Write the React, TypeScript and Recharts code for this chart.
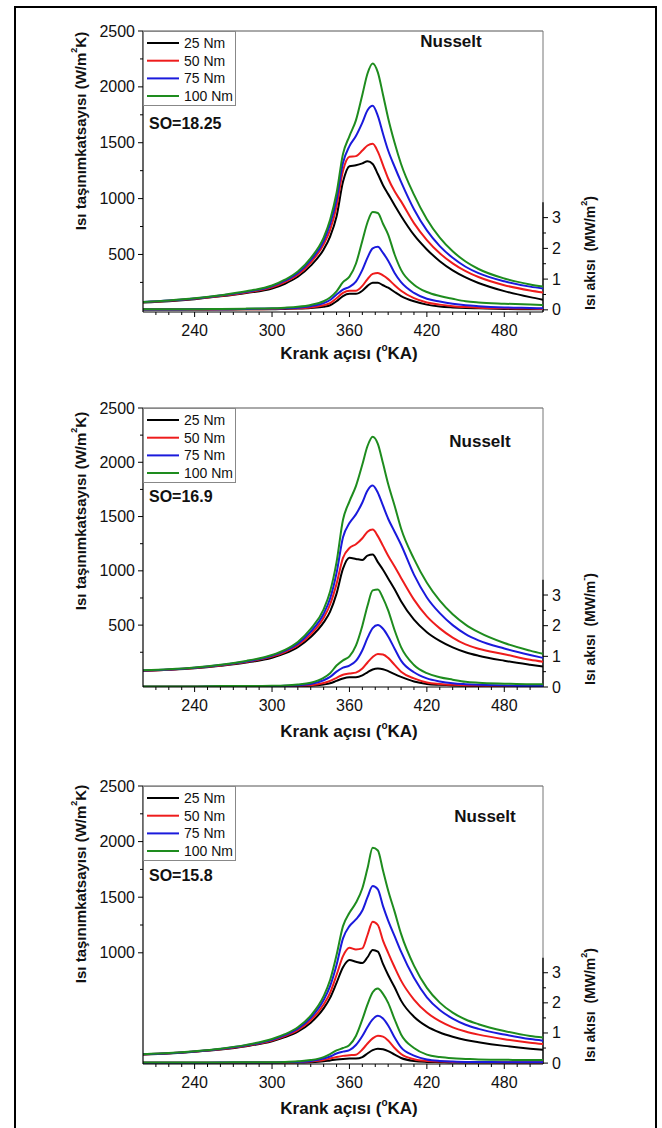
import React from 'react';
import { LineChart, Line, XAxis, YAxis, ReferenceLine } from 'recharts';

const FONT = "'Liberation Sans', Arial, Helvetica, sans-serif";

const crankAngle = [200, 220, 240, 260, 280, 300, 310, 320, 330, 340, 345, 350, 355, 360, 365, 370, 374, 378, 382, 386, 390, 395, 400, 410, 420, 430, 440, 450, 460, 480, 500, 510];

const loadLabels = ['25 Nm', '50 Nm', '75 Nm', '100 Nm'];
const loadColors = ['#000000', '#ee1c1c', '#1a1adc', '#1e8c1e'];

const xMajorTicks = [240, 300, 360, 420, 480];
const xAllTicks = [210, 220, 230, 240, 250, 260, 270, 280, 290, 300, 310, 320, 330, 340, 350, 360, 370, 380, 390, 400, 410, 420, 430, 440, 450, 460, 470, 480, 490, 500];
const hTicksFull = [250, 500, 750, 1000, 1250, 1500, 1750, 2000, 2250, 2500];
const hTickLabelsFull = [500, 1000, 1500, 2000, 2500];
const hTicksSO158 = [1000, 1250, 1500, 1750, 2000, 2250, 2500];
const hTickLabelsSO158 = [1000, 1500, 2000, 2500];
const qTicks = [0, 0.5, 1, 1.5, 2, 2.5, 3];
const qTickLabels = [0, 1, 2, 3];

// SO=18.25 heat transfer coefficient (W/m2K)
const so1825H25 = [70, 82, 100, 125, 155, 195, 238, 300, 400, 545, 660, 840, 1150, 1290, 1298, 1315, 1335, 1310, 1220, 1120, 1040, 940, 845, 675, 545, 440, 358, 295, 245, 172, 118, 95];
const so1825H50 = [72, 85, 103, 128, 160, 205, 252, 318, 428, 590, 720, 930, 1250, 1375, 1380, 1430, 1475, 1490, 1420, 1300, 1180, 1065, 975, 780, 628, 510, 420, 350, 298, 225, 178, 160];
const so1825H75 = [74, 87, 105, 132, 165, 215, 265, 335, 450, 620, 770, 990, 1320, 1470, 1560, 1680, 1790, 1830, 1740, 1580, 1430, 1285, 1150, 905, 715, 575, 470, 390, 333, 260, 212, 195];
const so1825H100 = [75, 88, 107, 135, 170, 222, 274, 348, 468, 650, 810, 1050, 1400, 1560, 1700, 1930, 2120, 2210, 2130, 1930, 1720, 1500, 1310, 1035, 815, 650, 528, 437, 370, 285, 232, 212];
// SO=18.25 heat flux (MW/m2)
const so1825Q25 = [0.01, 0.01, 0.01, 0.01, 0.02, 0.02, 0.03, 0.04, 0.06, 0.1, 0.15, 0.28, 0.45, 0.52, 0.52, 0.62, 0.78, 0.88, 0.88, 0.8, 0.72, 0.58, 0.45, 0.28, 0.17, 0.11, 0.08, 0.06, 0.05, 0.03, 0.02, 0.02];
const so1825Q50 = [0.01, 0.01, 0.01, 0.02, 0.02, 0.03, 0.04, 0.05, 0.08, 0.15, 0.22, 0.38, 0.55, 0.62, 0.62, 0.78, 1.0, 1.17, 1.2, 1.12, 1.0, 0.8, 0.62, 0.38, 0.24, 0.17, 0.12, 0.09, 0.07, 0.05, 0.04, 0.03];
const so1825Q75 = [0.01, 0.01, 0.02, 0.02, 0.03, 0.04, 0.05, 0.07, 0.12, 0.22, 0.32, 0.5, 0.66, 0.75, 0.92, 1.3, 1.7, 2.0, 2.05, 1.85, 1.6, 1.2, 0.9, 0.55, 0.36, 0.27, 0.2, 0.15, 0.12, 0.08, 0.06, 0.05];
const so1825Q100 = [0.02, 0.02, 0.02, 0.03, 0.04, 0.05, 0.07, 0.1, 0.16, 0.28, 0.4, 0.6, 0.9, 1.08, 1.5, 2.25, 2.85, 3.18, 3.15, 2.8, 2.45, 1.8, 1.3, 0.82, 0.58, 0.45, 0.36, 0.28, 0.24, 0.2, 0.17, 0.16];

// SO=16.9
const so169H25 = [78, 88, 102, 125, 155, 200, 240, 298, 390, 525, 625, 790, 1020, 1120, 1110, 1100, 1140, 1150, 1080, 1010, 930, 830, 720, 550, 435, 355, 295, 250, 218, 172, 135, 118];
const so169H50 = [80, 90, 105, 128, 160, 210, 252, 315, 415, 568, 690, 880, 1120, 1210, 1245, 1300, 1360, 1380, 1320, 1230, 1140, 1040, 935, 735, 580, 470, 385, 322, 283, 232, 180, 162];
const so169H75 = [82, 92, 108, 132, 165, 218, 262, 330, 440, 605, 745, 980, 1310, 1440, 1520, 1630, 1740, 1785, 1720, 1600, 1480, 1360, 1240, 965, 755, 610, 500, 418, 360, 285, 225, 198];
const so169H100 = [84, 94, 110, 135, 170, 225, 272, 345, 465, 645, 810, 1080, 1470, 1640, 1780, 1980, 2150, 2235, 2170, 1990, 1800, 1600, 1390, 1110, 890, 725, 600, 505, 435, 335, 265, 235];
const so169Q25 = [0.01, 0.01, 0.01, 0.01, 0.01, 0.02, 0.02, 0.03, 0.04, 0.08, 0.12, 0.2, 0.28, 0.32, 0.32, 0.38, 0.48, 0.57, 0.6, 0.58, 0.52, 0.42, 0.33, 0.18, 0.1, 0.07, 0.05, 0.04, 0.03, 0.02, 0.02, 0.02];
const so169Q50 = [0.01, 0.01, 0.01, 0.01, 0.02, 0.02, 0.03, 0.04, 0.06, 0.13, 0.2, 0.3, 0.4, 0.44, 0.47, 0.6, 0.8, 0.98, 1.08, 1.06, 0.95, 0.72, 0.5, 0.28, 0.15, 0.1, 0.07, 0.05, 0.04, 0.03, 0.03, 0.03];
const so169Q75 = [0.01, 0.01, 0.01, 0.02, 0.02, 0.03, 0.04, 0.06, 0.1, 0.22, 0.33, 0.5, 0.63, 0.7, 0.85, 1.2, 1.6, 1.92, 2.02, 1.9, 1.65, 1.25, 0.86, 0.48, 0.28, 0.18, 0.12, 0.09, 0.07, 0.05, 0.03, 0.03];
const so169Q100 = [0.02, 0.02, 0.02, 0.03, 0.03, 0.04, 0.05, 0.08, 0.14, 0.3, 0.45, 0.7, 0.87, 1.0, 1.35, 2.0, 2.65, 3.15, 3.18, 2.9, 2.5, 1.85, 1.3, 0.72, 0.45, 0.32, 0.24, 0.17, 0.14, 0.11, 0.09, 0.09];

// SO=15.8
const so158H25 = [85, 95, 110, 130, 160, 205, 242, 292, 372, 500, 595, 730, 870, 935, 920, 908, 960, 1025, 1010, 900, 800, 690, 570, 425, 338, 283, 245, 216, 196, 163, 138, 128];
const so158H50 = [86, 96, 112, 133, 165, 212, 252, 305, 393, 535, 640, 800, 970, 1045, 1030, 1040, 1160, 1280, 1250, 1110, 1000, 870, 750, 580, 463, 385, 330, 292, 264, 223, 192, 180];
const so158H75 = [87, 97, 113, 135, 168, 218, 260, 318, 415, 575, 700, 890, 1130, 1240, 1300, 1380, 1500, 1600, 1570, 1420, 1290, 1150, 1010, 775, 600, 485, 408, 353, 316, 265, 224, 210];
const so158H100 = [88, 98, 115, 138, 172, 225, 268, 330, 435, 610, 755, 980, 1240, 1360, 1450, 1580, 1760, 1945, 1920, 1740, 1560, 1370, 1170, 885, 685, 552, 462, 400, 358, 297, 252, 238];
const so158Q25 = [0.01, 0.01, 0.01, 0.01, 0.01, 0.01, 0.02, 0.02, 0.03, 0.06, 0.09, 0.12, 0.14, 0.15, 0.15, 0.2, 0.32, 0.43, 0.48, 0.46, 0.4, 0.28, 0.17, 0.07, 0.04, 0.03, 0.02, 0.02, 0.02, 0.02, 0.02, 0.02];
const so158Q50 = [0.01, 0.01, 0.01, 0.01, 0.02, 0.02, 0.02, 0.03, 0.05, 0.1, 0.15, 0.2, 0.24, 0.26, 0.28, 0.45, 0.65, 0.82, 0.91, 0.88, 0.75, 0.5, 0.3, 0.13, 0.07, 0.05, 0.04, 0.03, 0.03, 0.02, 0.02, 0.02];
const so158Q75 = [0.01, 0.01, 0.01, 0.02, 0.02, 0.02, 0.03, 0.04, 0.07, 0.15, 0.22, 0.32, 0.38, 0.43, 0.6, 0.9, 1.2, 1.45, 1.57, 1.48, 1.25, 0.85, 0.52, 0.25, 0.12, 0.07, 0.05, 0.04, 0.04, 0.03, 0.03, 0.03];
const so158Q100 = [0.02, 0.02, 0.02, 0.02, 0.03, 0.03, 0.04, 0.06, 0.1, 0.2, 0.3, 0.42, 0.5, 0.6, 0.9, 1.45, 1.95, 2.35, 2.48, 2.3, 2.0, 1.45, 0.95, 0.5, 0.28, 0.2, 0.16, 0.14, 0.12, 0.11, 0.1, 0.1];

const panels = [
  {
    so: 'SO=18.25', chartTop: 0, chartHeight: 378, plotTop: 31, plotBottom: 312,
    hDomain: [-15, 2500], qDomain: [-0.07, 9.07], hTicks: hTicksFull, hLabels: hTickLabelsFull,
    h: [so1825H25, so1825H50, so1825H75, so1825H100], q: [so1825Q25, so1825Q50, so1825Q75, so1825Q100],
    yTitleY: 131, rTitleY: 253, xTitleY: 353, fluxSup: '2', nusseltX: 451, nusseltY: 41, soY: 123, legendTop: 31,
  },
  {
    so: 'SO=16.9', chartTop: 378, chartHeight: 378, plotTop: 408, plotBottom: 687,
    hDomain: [-70, 2500], qDomain: [0, 9.1], hTicks: hTicksFull, hLabels: hTickLabelsFull,
    h: [so169H25, so169H50, so169H75, so169H100], q: [so169Q25, so169Q50, so169Q75, so169Q100],
    yTitleY: 511, rTitleY: 629, xTitleY: 731, fluxSup: '-', nusseltX: 480, nusseltY: 441, soY: 496, legendTop: 408,
  },
  {
    so: 'SO=15.8', chartTop: 756, chartHeight: 372, plotTop: 786, plotBottom: 1064,
    hDomain: [0, 2500], qDomain: [-0.03, 9.2], hTicks: hTicksSO158, hLabels: hTickLabelsSO158,
    h: [so158H25, so158H50, so158H75, so158H100], q: [so158Q25, so158Q50, so158Q75, so158Q100],
    yTitleY: 884, rTitleY: 1005, xTitleY: 1108, fluxSup: '2', nusseltX: 485, nusseltY: 816, soY: 875, legendTop: 786,
  },
];

const renderXTick = (props: any) => {
  const { x, y, payload } = props;
  const v = payload.value;
  const major = xMajorTicks.includes(v);
  return (
    <g>
      <line x1={x} x2={x} y1={y} y2={y + (major ? 5 : 3)} stroke="#000" strokeWidth={1} />
      {major && (
        <text x={x} y={y + 24} textAnchor="middle" fontSize={16} fontFamily={FONT} fill="#111">{v}</text>
      )}
    </g>
  );
};

const makeLeftTick = (labels: number[]) => (props: any) => {
  const { x, y, payload } = props;
  const v = payload.value;
  const major = labels.includes(v);
  return (
    <g>
      <line x1={x} x2={x - (major ? 5 : 3)} y1={y} y2={y} stroke="#000" strokeWidth={1} />
      {major && (
        <text x={x - 8} y={y + 5.5} textAnchor="end" fontSize={16} fontFamily={FONT} fill="#111">{v}</text>
      )}
    </g>
  );
};

const renderRightTick = (props: any) => {
  const { x, y, payload } = props;
  const v = payload.value;
  const major = qTickLabels.includes(v);
  return (
    <g>
      <line x1={x} x2={x + (major ? 5 : 3)} y1={y} y2={y} stroke="#000" strokeWidth={1} />
      {major && (
        <text x={x + 9} y={y + 5.5} textAnchor="start" fontSize={16} fontFamily={FONT} fill="#111">{v}</text>
      )}
    </g>
  );
};

function Panel({ p }: { p: any }) {
  const data = crankAngle.map((a, i) => ({
    angle: a,
    h0: p.h[0][i], h1: p.h[1][i], h2: p.h[2][i], h3: p.h[3][i],
    q0: p.q[0][i], q1: p.q[1][i], q2: p.q[2][i], q3: p.q[3][i],
  }));
  const marginTop = p.plotTop - p.chartTop;
  const xAxisHeight = p.chartTop + p.chartHeight - p.plotBottom;
  const off = p.chartTop;
  return (
    <div style={{ position: 'absolute', left: 0, top: p.chartTop }}>
      <LineChart width={662} height={p.chartHeight} data={data} margin={{ top: marginTop, right: 0, bottom: 0, left: 0 }}>
        <XAxis
          dataKey="angle" type="number" domain={[200, 510]} allowDataOverflow ticks={xAllTicks} interval={0}
          tickSize={0} tickMargin={0} tickLine={false} tick={renderXTick} height={xAxisHeight}
          axisLine={{ stroke: '#000', strokeWidth: 1.2 }}
          label={{
            content: () => (
              <text x={349} y={p.xTitleY - off} textAnchor="middle" dominantBaseline="central" fontSize={17} fontWeight="bold" fontFamily={FONT} fill="#111">
                Krank açısı (<tspan dy={-6} fontSize={10}>o</tspan><tspan dy={6}>KA)</tspan>
              </text>
            ),
          }}
        />
        <YAxis
          yAxisId="h" orientation="left" width={143} domain={p.hDomain} allowDataOverflow ticks={p.hTicks} interval={0}
          tickSize={0} tickMargin={0} tickLine={false} tick={makeLeftTick(p.hLabels)}
          axisLine={{ stroke: '#000', strokeWidth: 1.2 }}
          label={{
            content: () => (
              <text transform={`translate(80, ${p.yTitleY - off}) rotate(-90)`} textAnchor="middle" dominantBaseline="central" fontSize={15} fontWeight="bold" fontFamily={FONT} fill="#111">
                Isı taşınımkatsayısı (W/m<tspan dy={-6} fontSize={9}>2</tspan><tspan dy={6}>K)</tspan>
              </text>
            ),
          }}
        />
        <YAxis
          yAxisId="q" orientation="right" width={119} domain={p.qDomain} allowDataOverflow ticks={qTicks} interval={0}
          tickSize={0} tickMargin={0} tickLine={false} tick={renderRightTick} axisLine={false}
          label={{
            content: () => (
              <text transform={`translate(590, ${p.rTitleY - off}) rotate(-90)`} textAnchor="middle" dominantBaseline="central" fontSize={14} fontWeight="bold" fontFamily={FONT} fill="#111" style={{ whiteSpace: 'pre' }}>
                {'Isı akısı  (MW/m'}<tspan dy={-6} fontSize={9}>{p.fluxSup}</tspan><tspan dy={6}>)</tspan>
              </text>
            ),
          }}
        />
        <ReferenceLine yAxisId="h" y={2500} stroke="#555" strokeWidth={1} ifOverflow="extendDomain" />
        <ReferenceLine yAxisId="q" x={510} stroke="#777" strokeWidth={1} ifOverflow="extendDomain" />
        <ReferenceLine yAxisId="q" segment={[{ x: 510, y: p.qDomain[0] }, { x: 510, y: 3.5 }]} stroke="#000" strokeWidth={1.3} ifOverflow="extendDomain" />
        {[0, 1, 2, 3].map((k) => (
          <Line key={'h' + k} yAxisId="h" type="monotone" dataKey={'h' + k} name={loadLabels[k]} stroke={loadColors[k]} strokeWidth={2} dot={false} activeDot={false} isAnimationActive={false} />
        ))}
        {[0, 1, 2, 3].map((k) => (
          <Line key={'q' + k} yAxisId="q" type="monotone" dataKey={'q' + k} name={loadLabels[k] + ' flux'} stroke={loadColors[k]} strokeWidth={2} dot={false} activeDot={false} isAnimationActive={false} legendType="none" />
        ))}
      </LineChart>
    </div>
  );
}

export default function App() {
  const rowOffsets = [12, 29.7, 47.4, 65];
  return (
    <div style={{ position: 'fixed', left: 0, top: 0, width: 662, height: 1128, overflow: 'hidden', background: '#fff' }}>
      {panels.map((p) => (
        <Panel key={p.so} p={p} />
      ))}
      <svg width={662} height={1128} style={{ position: 'absolute', left: 0, top: 0, pointerEvents: 'none' }}>
        <rect x={15} y={7} width={641} height={1200} fill="none" stroke="#000" strokeWidth={2} />
        {panels.map((p) => (
          <g key={'ov' + p.so} fontFamily={FONT}>
            <rect x={143.5} y={p.legendTop + 0.5} width={92} height={74} fill="#fff" stroke="#888" strokeWidth={1} />
            {loadLabels.map((lbl, k) => (
              <g key={lbl}>
                <line x1={147} x2={179} y1={p.legendTop + rowOffsets[k]} y2={p.legendTop + rowOffsets[k]} stroke={loadColors[k]} strokeWidth={2} />
                <text x={184} y={p.legendTop + rowOffsets[k] + 5} fontSize={14} fill="#111">{lbl}</text>
              </g>
            ))}
            <text x={149} y={p.soY} dominantBaseline="central" fontSize={16} fontWeight="bold" fill="#111">{p.so}</text>
            <text x={p.nusseltX} y={p.nusseltY} textAnchor="middle" dominantBaseline="central" fontSize={17} fontWeight="bold" fill="#111">Nusselt</text>
          </g>
        ))}
      </svg>
    </div>
  );
}
